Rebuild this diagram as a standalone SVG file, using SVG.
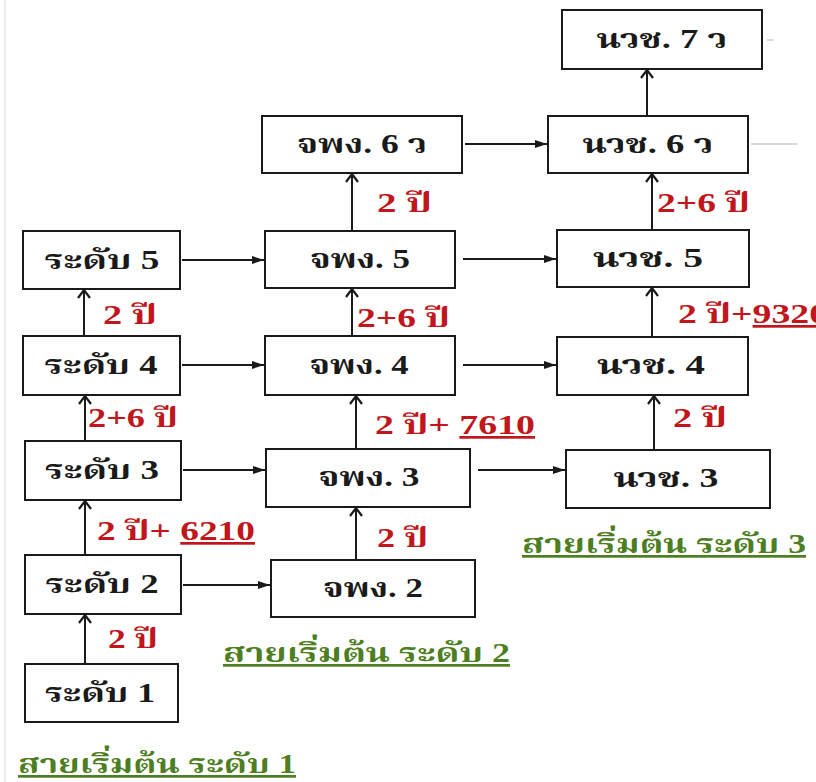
<svg xmlns="http://www.w3.org/2000/svg" width="816" height="782" viewBox="0 0 816 782">
  <style>
    .box rect { fill: #ffffff; stroke: #1a1a1a; stroke-width: 2; }
    .box text { font-family: "Liberation Serif", "Noto Serif Thai", "Noto Sans Thai", serif; font-weight: bold; font-size: 27px; fill: #1a1a1a; text-anchor: middle; }
    .lbl { font-family: "Liberation Serif", "Noto Serif Thai", "Noto Sans Thai", serif; font-weight: bold; font-size: 27px; fill: #c0161c; }
    .line { font-family: "Liberation Serif", "Noto Serif Thai", "Noto Sans Thai", serif; font-weight: bold; font-size: 27px; fill: #4d7f22; text-decoration: underline; }
    .u { text-decoration: underline; }
    .up { stroke: #1a1a1a; stroke-width: 2; fill: none; marker-end: url(#chev); }
    .rt { stroke: #1a1a1a; stroke-width: 2; fill: none; marker-end: url(#tri); }
    .faint { stroke: #c8c8c8; stroke-width: 1.5; }
  </style>
  <defs>
    <marker id="chev" viewBox="0 0 10 14" refX="9" refY="7" markerWidth="10" markerHeight="14" markerUnits="userSpaceOnUse" orient="auto">
      <path d="M1,1 L9,7 L1,13" fill="none" stroke="#1a1a1a" stroke-width="2.2"/>
    </marker>
    <marker id="tri" viewBox="0 0 12 10" refX="12" refY="5" markerWidth="12" markerHeight="10" markerUnits="userSpaceOnUse" orient="auto">
      <path d="M0,1 L12,5 L0,9 Z" fill="#1a1a1a"/>
    </marker>
  </defs>
  <rect width="816" height="782" fill="#ffffff"/>
  <!-- light page edge on the left -->
  <line x1="5" y1="0" x2="5" y2="782" stroke="#ececec" stroke-width="2"/>

  <!-- level boxes, left column -->
  <g id="lv1" class="box"><rect x="25" y="664" width="153" height="58"/><text x="100" y="702" textLength="110" lengthAdjust="spacingAndGlyphs">ระดับ 1</text></g>
  <g id="lv2" class="box"><rect x="25" y="555" width="156" height="59"/><text x="102" y="593" textLength="113" lengthAdjust="spacingAndGlyphs">ระดับ 2</text></g>
  <g id="lv3" class="box"><rect x="25" y="441" width="156" height="59"/><text x="102" y="479" textLength="114" lengthAdjust="spacingAndGlyphs">ระดับ 3</text></g>
  <g id="lv4" class="box"><rect x="23" y="336" width="157" height="59"/><text x="101" y="374" textLength="113" lengthAdjust="spacingAndGlyphs">ระดับ 4</text></g>
  <g id="lv5" class="box"><rect x="23" y="231" width="157" height="58"/><text x="102" y="269" textLength="115" lengthAdjust="spacingAndGlyphs">ระดับ 5</text></g>

  <!-- middle column -->
  <g id="jp2" class="box"><rect x="271" y="560" width="204" height="57"/><text x="373" y="597" textLength="100" lengthAdjust="spacingAndGlyphs">จพง. 2</text></g>
  <g id="jp3" class="box"><rect x="266" y="449" width="204" height="58"/><text x="369" y="486" textLength="101" lengthAdjust="spacingAndGlyphs">จพง. 3</text></g>
  <g id="jp4" class="box"><rect x="265" y="336" width="190" height="59"/><text x="359" y="374" textLength="99" lengthAdjust="spacingAndGlyphs">จพง. 4</text></g>
  <g id="jp5" class="box"><rect x="265" y="231" width="190" height="57"/><text x="360" y="268" textLength="100" lengthAdjust="spacingAndGlyphs">จพง. 5</text></g>
  <g id="jp6" class="box"><rect x="262" y="116" width="200" height="57"/><text x="362" y="153" textLength="130" lengthAdjust="spacingAndGlyphs">จพง. 6 ว</text></g>

  <!-- right column -->
  <g id="nw3" class="box"><rect x="566" y="450" width="204" height="58"/><text x="666" y="487" textLength="105" lengthAdjust="spacingAndGlyphs">นวช. 3</text></g>
  <g id="nw4" class="box"><rect x="557" y="337" width="191" height="58"/><text x="651" y="374" textLength="108" lengthAdjust="spacingAndGlyphs">นวช. 4</text></g>
  <g id="nw5" class="box"><rect x="557" y="230" width="192" height="57"/><text x="648" y="267" textLength="110" lengthAdjust="spacingAndGlyphs">นวช. 5</text></g>
  <g id="nw6" class="box"><rect x="548" y="116" width="200" height="57"/><text x="648" y="153" textLength="131" lengthAdjust="spacingAndGlyphs">นวช. 6 ว</text></g>
  <g id="nw7" class="box"><rect x="562" y="10" width="200" height="59"/><text x="662" y="48" textLength="131" lengthAdjust="spacingAndGlyphs">นวช. 7 ว</text></g>

  <!-- connectors -->
  <g id="connectors">
    <line class="up" x1="85" y1="664" x2="85" y2="615"/>
    <line class="up" x1="85" y1="555" x2="85" y2="501"/>
    <line class="up" x1="85" y1="441" x2="85" y2="396"/>
    <line class="up" x1="84" y1="336" x2="84" y2="290"/>
    <line class="up" x1="356" y1="560" x2="356" y2="508"/>
    <line class="up" x1="356" y1="449" x2="356" y2="396"/>
    <line class="up" x1="352" y1="336" x2="352" y2="289"/>
    <line class="up" x1="352" y1="231" x2="352" y2="174"/>
    <line class="up" x1="654" y1="450" x2="654" y2="396"/>
    <line class="up" x1="652" y1="337" x2="652" y2="288"/>
    <line class="up" x1="652" y1="230" x2="652" y2="174"/>
    <line class="up" x1="647" y1="116" x2="647" y2="70"/>

    <line class="rt" x1="182" y1="260" x2="264" y2="260"/>
    <line class="rt" x1="182" y1="365" x2="264" y2="365"/>
    <line class="rt" x1="183" y1="470" x2="265" y2="470"/>
    <line class="rt" x1="183" y1="585" x2="270" y2="585"/>
    <line class="rt" x1="465" y1="144" x2="547" y2="144"/>
    <line class="rt" x1="463" y1="259" x2="556" y2="259"/>
    <line class="rt" x1="463" y1="365" x2="556" y2="365"/>
    <line class="rt" x1="478" y1="470" x2="565" y2="470"/>

    <line class="faint" x1="751" y1="144" x2="797" y2="144"/>
    <line class="faint" x1="767" y1="40" x2="773" y2="40"/>
  </g>

  <!-- duration labels -->
  <text class="lbl" x="103" y="324" textLength="54" lengthAdjust="spacingAndGlyphs">2 ปี</text>
  <text class="lbl" x="88" y="427" textLength="90" lengthAdjust="spacingAndGlyphs">2+6 ปี</text>
  <text class="lbl" x="97" y="540" textLength="158" lengthAdjust="spacingAndGlyphs">2 ปี+ <tspan class="u">6210</tspan></text>
  <text class="lbl" x="108" y="648" textLength="50" lengthAdjust="spacingAndGlyphs">2 ปี</text>

  <text class="lbl" x="377" y="212" textLength="55" lengthAdjust="spacingAndGlyphs">2 ปี</text>
  <text class="lbl" x="357" y="327" textLength="93" lengthAdjust="spacingAndGlyphs">2+6 ปี</text>
  <text class="lbl" x="375" y="434" textLength="160" lengthAdjust="spacingAndGlyphs">2 ปี+ <tspan class="u">7610</tspan></text>
  <text class="lbl" x="377" y="547" textLength="51" lengthAdjust="spacingAndGlyphs">2 ปี</text>

  <text class="lbl" x="657" y="212" textLength="93" lengthAdjust="spacingAndGlyphs">2+6 ปี</text>
  <text class="lbl" x="678" y="323" textLength="150" lengthAdjust="spacingAndGlyphs">2 ปี+<tspan class="u">9320</tspan></text>
  <text class="lbl" x="673" y="427" textLength="54" lengthAdjust="spacingAndGlyphs">2 ปี</text>

  <!-- entry track captions -->
  <text class="line" x="18" y="773" textLength="278" lengthAdjust="spacingAndGlyphs">สายเริ่มต้น ระดับ 1</text>
  <text class="line" x="223" y="662" textLength="287" lengthAdjust="spacingAndGlyphs">สายเริ่มต้น ระดับ 2</text>
  <text class="line" x="522" y="553" textLength="284" lengthAdjust="spacingAndGlyphs">สายเริ่มต้น ระดับ 3</text>
</svg>
